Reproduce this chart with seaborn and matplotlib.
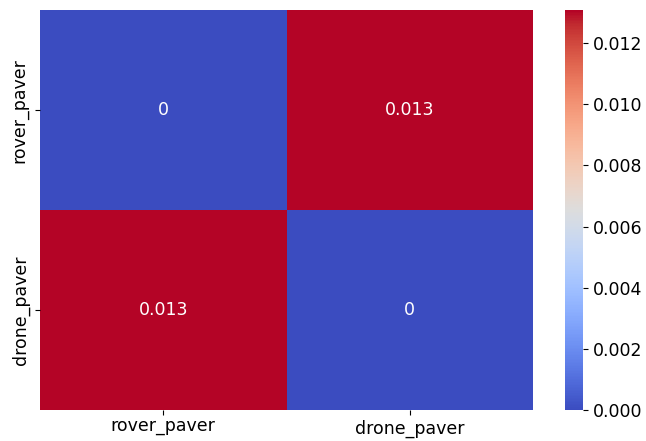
import numpy as np
import pandas as pd
import seaborn as sns
import matplotlib
matplotlib.use("Agg")
import matplotlib.pyplot as plt
import matplotlib.transforms as mtransforms

labels = ["rover_paver", "drone_paver"]
row_rover = [0.0, 0.01307]
row_drone = [0.01307, 0.0]

df = pd.DataFrame([row_rover, row_drone], index=labels, columns=labels)

fs = 12.5
fig = plt.figure(figsize=(6.46, 4.41), dpi=100)
ax = fig.add_axes([0.062, 0.070, 0.763, 0.907])
cax = fig.add_axes([0.875, 0.070, 0.028, 0.907])

sns.heatmap(df, ax=ax, cbar_ax=cax, cmap="coolwarm", annot=True,
            annot_kws={"fontsize": fs})

ax.set_yticklabels(labels, rotation=90, va="center", fontsize=fs)
ax.set_xticklabels(labels, rotation=0, fontsize=fs)
cax.tick_params(labelsize=fs)

# labels without ascenders sit a little higher (top of x-height aligned)
shift = mtransforms.ScaledTranslation(0, 3 / 100, fig.dpi_scale_trans)
lbl = ax.get_xticklabels()[0]
lbl.set_transform(lbl.get_transform() + shift)
ylbl = ax.get_yticklabels()[0]
ylbl.set_transform(ylbl.get_transform() +
                   mtransforms.ScaledTranslation(-2 / 100, 0, fig.dpi_scale_trans))

fig.savefig("out.png", dpi=100)
